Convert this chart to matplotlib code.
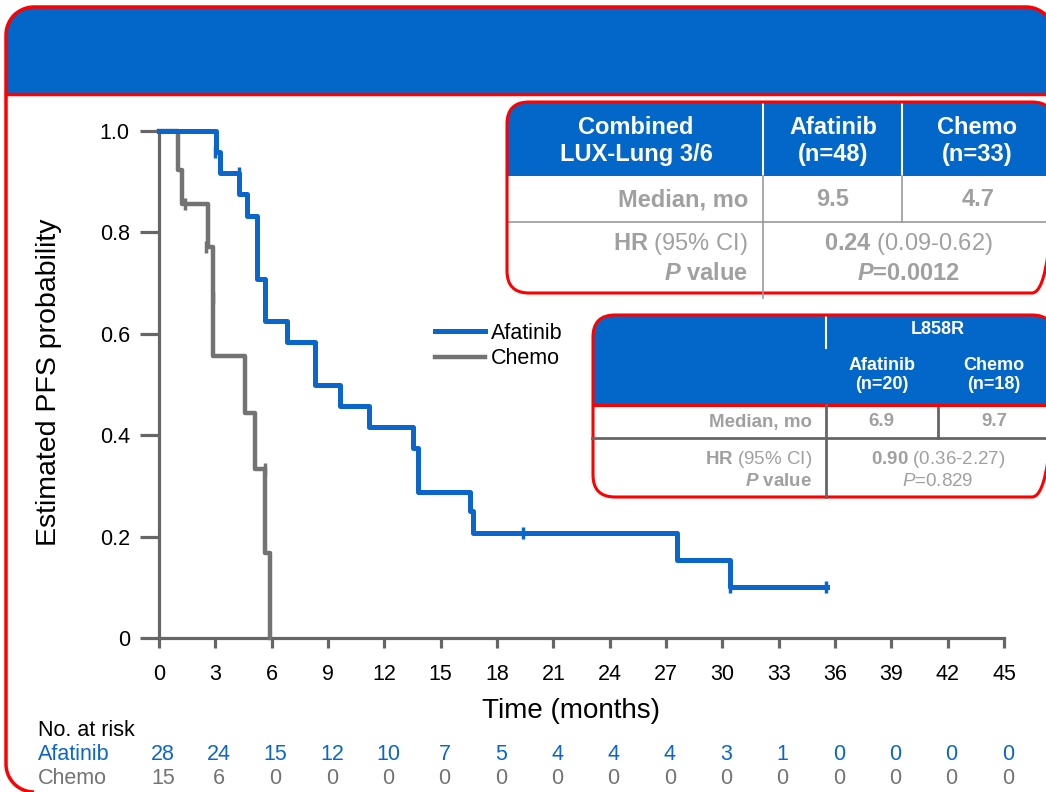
import numpy as np
import matplotlib
matplotlib.use("Agg")
import matplotlib.pyplot as plt
from matplotlib.patches import FancyBboxPatch, Rectangle

plt.rcParams['font.family'] = ['Liberation Sans', 'DejaVu Sans']
plt.rcParams['mathtext.fontset'] = 'custom'
plt.rcParams['mathtext.rm'] = 'Liberation Sans'
plt.rcParams['mathtext.it'] = 'Liberation Sans:italic'
plt.rcParams['mathtext.bf'] = 'Liberation Sans:bold'
plt.rcParams['mathtext.bfit'] = 'Liberation Sans:italic:bold'

# KM curve data
afatinib_t = [0, 3.03, 3.25, 4.26, 4.68, 5.22, 5.64, 6.8, 8.3, 9.64, 11.2, 13.5, 13.8, 16.56, 16.7, 27.6, 30.4, 35.6]
afatinib_s = [1.0, 0.958, 0.917, 0.875, 0.833, 0.708, 0.625, 0.583, 0.5, 0.458, 0.417, 0.375, 0.288, 0.25, 0.208, 0.153, 0.10, 0.10]
afatinib_cens_t = [3.0, 4.26, 19.4, 30.4, 35.5]
afatinib_cens_s = [0.958, 0.917, 0.208, 0.10, 0.10]

chemo_t = [0, 1.0, 1.2, 2.6, 2.9, 4.58, 5.1, 5.65, 5.9]
chemo_s = [1.0, 0.923, 0.857, 0.771, 0.556, 0.444, 0.333, 0.167, 0.0]
chemo_cens_t = [1.4, 2.5, 2.9, 5.65]
chemo_cens_s = [0.857, 0.771, 0.67, 0.333]

risk_times = [0, 3, 6, 9, 12, 15, 18, 21, 24, 27, 30, 33, 36, 39, 42, 45]
risk_afatinib = [28, 24, 15, 12, 10, 7, 5, 4, 4, 4, 3, 1, 0, 0, 0, 0]
risk_chemo = [15, 6, 0, 0, 0, 0, 0, 0, 0, 0, 0, 0, 0, 0, 0, 0]

BLUE = '#0366C9'
LINE_BLUE = '#0A66CC'
GRAY = '#737373'
AXGRAY = '#666666'
TXTGRAY = '#A0A0A0'
RED = '#FF0000'

W, H = 1046, 792
fig = plt.figure(figsize=(W / 100, H / 100), dpi=100)

# background layer in pixel coords
bg = fig.add_axes([0, 0, 1, 1], zorder=0)
bg.set_xlim(0, W)
bg.set_ylim(H, 0)
bg.axis('off')


def rbox(ax, x0, y0, x1, y1, r, **kw):
    p = FancyBboxPatch((x0, y0), x1 - x0, y1 - y0,
                       boxstyle=f"round,pad=0,rounding_size={r}", **kw)
    ax.add_patch(p)
    return p


def boxed_table(ax, x0, y0, x1, y1, r, yh, lw=2.2):
    rbox(ax, x0, y0, x1, y1, r, fc='white', ec='none', zorder=1)
    hdr = rbox(ax, x0, y0, x1, y1, r, fc=BLUE, ec='none', zorder=2)
    clip = Rectangle((x0 - 5, y0 - 5), x1 - x0 + 10, yh - y0 + 5, transform=ax.transData)
    hdr.set_clip_path(clip)
    rbox(ax, x0, y0, x1, y1, r, fc='none', ec=RED, lw=lw, zorder=6)


def arc(cx, cy, r, a0, a1):
    a = np.radians(np.linspace(a0, a1, 30))
    return cx + r * np.cos(a), cy + r * np.sin(a)


# outer frame: header band filled, red outline drawn by hand (bottom/right run off the page)
fx0, fy0, fr = 6, 7, 28
rbox(bg, fx0, fy0, 1054, 830, fr, fc=BLUE, ec='none', zorder=1).set_clip_path(
    Rectangle((0, 0), W, 93, transform=bg.transData))
ax_, ay_ = arc(fx0 + fr, 764, fr, 180, 90)
bx_, by_ = arc(fx0 + fr, fy0 + fr, fr, 180, 270)
cx_, cy_ = arc(1054 - fr, fy0 + fr, fr, 270, 360)
fxs = np.concatenate([ax_[::-1], bx_, cx_])
fys = np.concatenate([ay_[::-1], by_, cy_])
bg.plot(fxs, fys, color=RED, lw=2.5, zorder=7, solid_capstyle='butt')
bg.plot([fx0, W], [93.5, 93.5], color=RED, lw=2.5, zorder=7)

# main KM axes
x0p, x1p, y0p, y1p = 159, 1004, 131, 638
ax = fig.add_axes([x0p / W, 1 - y1p / H, (x1p - x0p) / W, (y1p - y0p) / H], zorder=1)
ax.patch.set_alpha(0)
ax.set_xlim(0, 45)
ax.set_ylim(0, 1.0)

ax.step(chemo_t, chemo_s, where='post', color=GRAY, lw=3.2, clip_on=False, zorder=3, label='Chemo')
ax.plot(chemo_cens_t, chemo_cens_s, ls='none', marker='|', ms=9, mew=2.5, color=GRAY, clip_on=False, zorder=3)
ax.step(afatinib_t, afatinib_s, where='post', color=LINE_BLUE, lw=3.6, clip_on=False, zorder=4, label='Afatinib')
ax.plot(afatinib_cens_t, afatinib_cens_s, ls='none', marker='|', ms=9, mew=2.5, color=LINE_BLUE, clip_on=False, zorder=4)

for s in ['top', 'right']:
    ax.spines[s].set_visible(False)
for s in ['left', 'bottom']:
    ax.spines[s].set_color(AXGRAY)
    ax.spines[s].set_linewidth(2.3)
ax.set_xticks(risk_times)
ax.set_yticks([0, 0.2, 0.4, 0.6, 0.8, 1.0])
ax.set_yticklabels(['0', '0.2', '0.4', '0.6', '0.8', '1.0'])
ax.tick_params(axis='y', length=14, width=2.3, color=AXGRAY, pad=7, labelsize=15.5)
ax.tick_params(axis='x', length=7.5, width=2.3, color=AXGRAY, pad=11, labelsize=15.5)

h, l = ax.get_legend_handles_labels()
fig.legend(h[::-1], l[::-1], loc='upper left', bbox_to_anchor=(435 / W, 1 - 323 / H),
           frameon=False, fontsize=15.5, handlelength=2.3, handletextpad=0.3,
           labelspacing=0.2, borderpad=0, borderaxespad=0)

# foreground layer: labels, tables, risk table
fg = fig.add_axes([0, 0, 1, 1], zorder=2)
fg.patch.set_alpha(0)
fg.set_xlim(0, W)
fg.set_ylim(H, 0)
fg.axis('off')

fg.text(49, 382, 'Estimated PFS probability', rotation=90, ha='center', va='center', fontsize=20.5)
fg.text(571, 711, 'Time (months)', ha='center', va='center', fontsize=20)

# at-risk table
fg.text(38, 731, 'No. at risk', ha='left', va='center', fontsize=15.5, color='black')
fg.text(38, 754, 'Afatinib', ha='left', va='center', fontsize=15.5, color=LINE_BLUE)
fg.text(38, 778, 'Chemo', ha='left', va='center', fontsize=15.5, color=GRAY)
for t, a, c in zip(risk_times, risk_afatinib, risk_chemo):
    xp = x0p + (x1p - x0p) * t / 45 + 4
    fg.text(xp, 754, str(a), ha='center', va='center', fontsize=15.5, color=LINE_BLUE)
    fg.text(xp, 778, str(c), ha='center', va='center', fontsize=15.5, color=GRAY)

# table 1: combined
boxed_table(fg, 507, 102, 1054, 293, 22, 176)
fg.plot([763, 763], [102, 176], color='white', lw=1.5, zorder=4)
fg.plot([902, 902], [102, 176], color='white', lw=1.5, zorder=4)
fg.plot([763, 763], [176, 298], color='#999999', lw=1.2, zorder=7)
fg.plot([902, 902], [176, 222], color='#999999', lw=1.2, zorder=4)
fg.plot([507, W], [222, 222], color='#999999', lw=1.2, zorder=4)
hk = dict(ha='center', va='center', fontsize=17, color='white', fontweight='bold', linespacing=1.2, zorder=5)
fg.text(636, 141, 'Combined\nLUX-Lung 3/6', **hk)
fg.text(833, 141, 'Afatinib\n(n=48)', **hk)
fg.text(977, 141, 'Chemo\n(n=33)', **hk)
rk = dict(va='center', fontsize=17, color=TXTGRAY, zorder=5)
fg.text(748, 200, 'Median, mo', ha='right', fontweight='bold', **rk)
fg.text(833, 200, '9.5', ha='center', fontweight='bold', **rk)
fg.text(978, 200, '4.7', ha='center', fontweight='bold', **rk)
fg.text(748, 244, r'$\mathbf{HR}$ (95% CI)', ha='right', **rk)
fg.text(748, 273, r'$\mathbfit{P}$ value', ha='right', fontweight='bold', **rk)
fg.text(908, 244, r'$\mathbf{0.24}$ (0.09-0.62)', ha='center', **rk)
fg.text(908, 273, r'$\mathbfit{P}$=0.0012', ha='center', fontweight='bold', **rk)

# table 2: L858R
boxed_table(fg, 593, 315, 1054, 497, 22, 405)
fg.plot([593, W], [405, 405], color=RED, lw=2.2, zorder=6)
fg.plot([826, 826], [315, 348], color='white', lw=1.5, zorder=4)
fg.plot([826, 826], [405, 497], color=AXGRAY, lw=2, zorder=7)
fg.plot([938, 938], [405, 438], color=AXGRAY, lw=2, zorder=4)
fg.plot([592, W], [438, 438], color=AXGRAY, lw=2, zorder=7)
hk2 = dict(ha='center', va='center', fontsize=13, color='white', fontweight='bold', linespacing=1.1, zorder=5)
fg.text(938, 330, 'L858R', **hk2)
fg.text(882, 375, 'Afatinib\n(n=20)', **hk2)
fg.text(994, 375, 'Chemo\n(n=18)', **hk2)
rk2 = dict(va='center', fontsize=13.5, color=TXTGRAY, zorder=5)
fg.text(812, 422, 'Median, mo', ha='right', fontweight='bold', **rk2)
fg.text(881, 422, '6.9', ha='center', fontweight='bold', **rk2)
fg.text(994, 422, '9.7', ha='center', fontweight='bold', **rk2)
fg.text(812, 460, r'$\mathbf{HR}$ (95% CI)', ha='right', **rk2)
fg.text(812, 482, r'$\mathbfit{P}$ value', ha='right', fontweight='bold', **rk2)
fg.text(938, 460, r'$\mathbf{0.90}$ (0.36-2.27)', ha='center', **rk2)
fg.text(938, 482, r'$\mathit{P}$=0.829', ha='center', **rk2)

fig.savefig('out.png', dpi=100)
